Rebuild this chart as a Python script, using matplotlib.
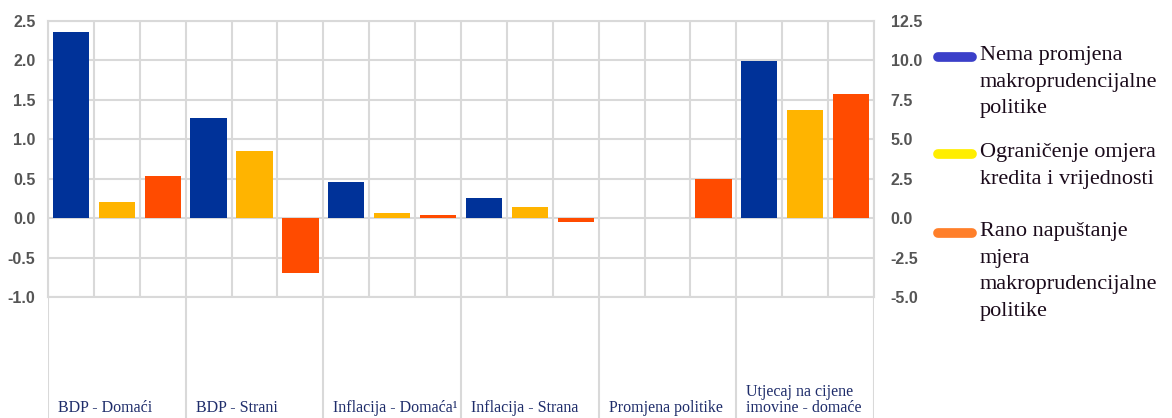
import matplotlib.pyplot as plt
import numpy as np
from matplotlib.lines import Line2D

# data
categories = ["BDP - Domaći", "BDP - Strani", "Inflacija - Domaća¹",
              "Inflacija - Strana", "Promjena politike",
              "Utjecaj na cijene\nimovine - domaće"]
series_names = ["Nema promjena\nmakroprudencijalne\npolitike",
                "Ograničenje omjera\nkredita i vrijednosti",
                "Rano napuštanje\nmjera\nmakroprudencijalne\npolitike"]
no_change = [2.36, 1.27, 0.46, 0.26, 0.0, 1.99]
ltv_limit = [0.21, 0.855, 0.07, 0.14, 0.0, 1.37]
early_exit = [0.53, -0.70, 0.04, -0.05, 0.50, 1.57]
left_ticks = [-1.0, -0.5, 0.0, 0.5, 1.0, 1.5, 2.0, 2.5]
right_ticks = [-5.0, -2.5, 0.0, 2.5, 5.0, 7.5, 10.0, 12.5]

bar_colors = ["#003299", "#FFB400", "#FF4B00"]
legend_colors = ["#3b3fc9", "#FFEE00", "#FF7F2A"]
grid_col = "#d9d9d9"
tick_col = "#555555"

W, H = 1172, 418
fig = plt.figure(figsize=(W / 100, H / 100), dpi=100)

x0, x1 = 48, 874
y_top, y_bot = 21, 297
ax = fig.add_axes([x0 / W, 1 - y_bot / H, (x1 - x0) / W, (y_bot - y_top) / H])

n_groups = len(categories)
values = np.array([no_change, ltv_limit, early_exit])
for s in range(3):
    xs = np.arange(n_groups) * 3 + s
    ax.bar(xs, values[s], width=0.79, color=bar_colors[s], zorder=3)

ax.set_xlim(-0.5, 3 * n_groups - 0.5)
ax.set_ylim(-1.0, 2.5)
ax.set_yticks(left_ticks)
ax.set_yticklabels([f"{v:.1f}" for v in left_ticks])
ax.set_xticks(np.arange(3 * n_groups + 1) - 0.5)
ax.set_xticklabels([])
ax.tick_params(axis="x", length=0)
ax.tick_params(axis="y", length=0, pad=9, labelsize=11.5, labelcolor=tick_col)
for lab in ax.get_yticklabels():
    lab.set_fontfamily("Liberation Sans")
    lab.set_fontweight("bold")
ax.grid(True, color=grid_col, linewidth=1.5, zorder=0)
for sp in ax.spines.values():
    sp.set_color(grid_col)
    sp.set_linewidth(1.5)

ax2 = ax.twinx()
ax2.set_ylim(-5.0, 12.5)
ax2.set_yticks(right_ticks)
ax2.set_yticklabels([f"{v:.1f}" for v in right_ticks])
ax2.tick_params(axis="y", length=0, pad=12, labelsize=11.5, labelcolor=tick_col)
for lab in ax2.get_yticklabels():
    lab.set_fontfamily("Liberation Sans")
    lab.set_fontweight("bold")
for sp in ax2.spines.values():
    sp.set_visible(False)

# category label area below the plot
lab_ax = fig.add_axes([x0 / W, 0, (x1 - x0) / W, 1 - y_bot / H])
lab_ax.set_xlim(-0.5, 3 * n_groups - 0.5)
lab_ax.set_ylim(0, 1)
lab_ax.axis("off")
for g in range(n_groups + 1):
    lab_ax.axvline(g * 3 - 0.5, color=grid_col, linewidth=1.5)
for g, name in enumerate(categories):
    lab_ax.text(g * 3 - 0.28, 0.02, name, ha="left", va="bottom",
                fontsize=11.5, family="Liberation Serif", color="#1f2d6b",
                linespacing=1.0)

# legend drawn by hand so the handle sits on the first text line
leg_y = [57, 154, 233]
for name, col, y in zip(series_names, legend_colors, leg_y):
    fig.add_artist(Line2D([938 / W, 972 / W], [1 - y / H, 1 - y / H],
                          color=col, linewidth=7, solid_capstyle="round"))
    fig.text(980 / W, 1 - (y - 11) / H, name, ha="left", va="top",
             fontsize=16, family="Liberation Serif", color="#1a0a1a",
             linespacing=1.55)

fig.savefig("out.png", dpi=100)
